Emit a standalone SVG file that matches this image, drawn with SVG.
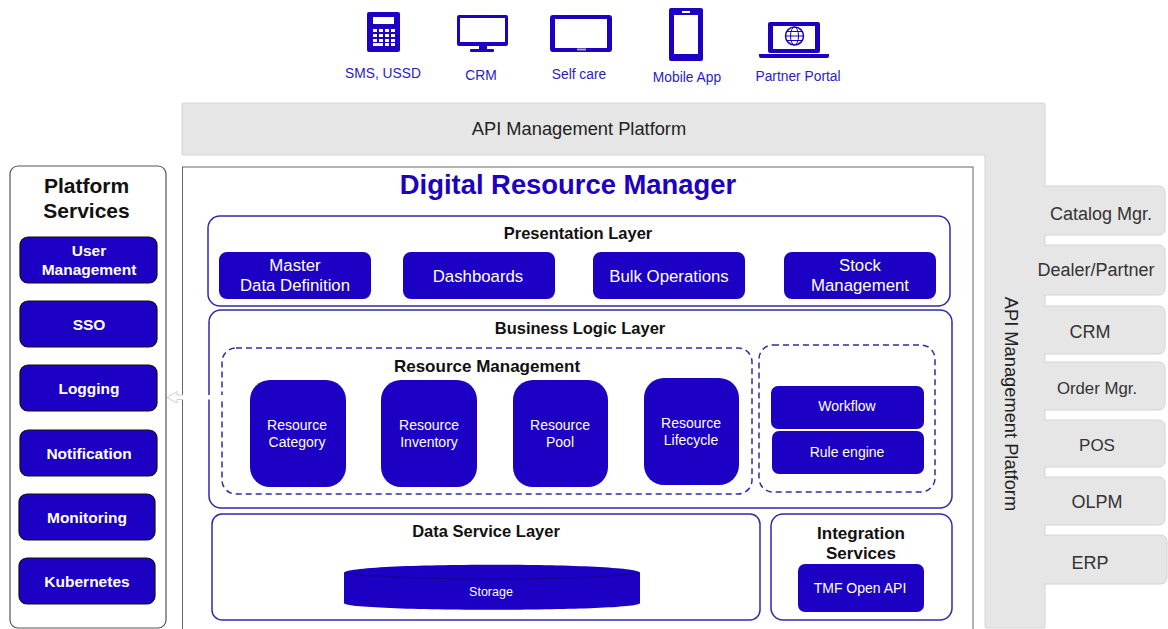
<svg xmlns="http://www.w3.org/2000/svg" width="1168" height="629" viewBox="0 0 1168 629">
<style>
text{font-family:"Liberation Sans",Arial,sans-serif;text-anchor:middle}
.blue{fill:#1c00c4}
.ch{fill:#2a1cc4;font-size:13.800px}
.hole{fill:#fff}
.layer{fill:#fff;stroke:#2f2aa8;stroke-width:1.5}
.dash{fill:none;stroke:#2f2aa8;stroke-width:1.5;stroke-dasharray:6 4}
.box{fill:#1c00c4;stroke:#111;stroke-width:1.2}
.fb{fill:#1c00c4}
.w{fill:#fff}
.wb{fill:#fff;font-weight:bold;font-size:15.500px}
.lt{fill:#111;font-weight:bold;font-size:16.500px}
.gray{fill:#e6e6e6;stroke:#d4d4d4;stroke-width:1}
.gt{fill:#333;font-size:18px}
.api{fill:#222;font-size:18.300px}
</style>
<g id="channels">
<g id="ch-sms"><rect x="367" y="12" width="33" height="40" rx="2" class="blue"/><rect x="373" y="17" width="21" height="7" class="hole"/><g class="hole"><rect x="373" y="29" width="4" height="3"/><rect x="379" y="29" width="4" height="3"/><rect x="385" y="29" width="4" height="3"/><rect x="391" y="29" width="4" height="3"/><rect x="373" y="34" width="4" height="3"/><rect x="379" y="34" width="4" height="3"/><rect x="385" y="34" width="4" height="3"/><rect x="391" y="34" width="4" height="3"/><rect x="373" y="39" width="4" height="3"/><rect x="379" y="39" width="4" height="3"/><rect x="385" y="39" width="4" height="3"/><rect x="391" y="39" width="4" height="3"/><rect x="373" y="43" width="10" height="3"/><rect x="385" y="43" width="4" height="3"/><rect x="391" y="43" width="4" height="3"/></g><text x="383" y="78" class="ch">SMS, USSD</text></g>
<g id="ch-crm"><rect x="457" y="15" width="51" height="31" rx="2" class="blue"/><rect x="460" y="18" width="45" height="24" class="hole"/><rect x="479" y="46" width="8" height="4" class="blue"/><rect x="470" y="49" width="24" height="3" rx="1" class="blue"/><text x="481" y="80" class="ch">CRM</text></g>
<g id="ch-selfcare"><rect x="550" y="15" width="62" height="37" rx="3" class="blue"/><rect x="555" y="19" width="52" height="29" class="hole"/><rect x="577" y="48.500" width="9" height="2" fill="#aaa"/><text x="579" y="79" class="ch">Self care</text></g>
<g id="ch-mobile"><rect x="669" y="8" width="34" height="53" rx="2" class="blue"/><rect x="674" y="15" width="24" height="39" class="hole"/><rect x="682" y="11" width="8" height="2" class="hole"/><text x="687" y="82" class="ch">Mobile App</text></g>
<g id="ch-partner"><rect x="768" y="22" width="52" height="31" rx="2" class="blue"/><rect x="773" y="26" width="42" height="23" class="hole"/><path d="M759 54H829V56Q829 58 827 58H761Q759 58 759 56Z" class="blue"/><circle cx="794.500" cy="36" r="9" fill="none" stroke="#1c00c4" stroke-width="1.500"/><ellipse cx="794.500" cy="36" rx="4" ry="9" fill="none" stroke="#1c00c4"/><path d="M785.500 36H803.500M787 31.500H802M787 40.500H802" stroke="#1c00c4" fill="none"/><text x="798" y="81" class="ch">Partner Portal</text></g>
</g>
<g id="api-platform">
<path class="gray" d="M184 103H1043Q1045 103 1045 105V627Q1045 628 1043 628H987Q985 628 985 627V155H182V105Q182 103 184 103Z"/>
<text x="579" y="135" class="api">API Management Platform</text>
<text transform="translate(1005 404) rotate(90)" class="api">API Management Platform</text>
</g>
<g id="tabs">
<g id="tab-catalog"><path class="gray" d="M1044 186H1158Q1165 186 1165 193V229Q1165 235 1158 235H1044"/><text x="1101" y="220" class="gt">Catalog Mgr.</text></g>
<g id="tab-dealer"><path class="gray" d="M1044 245H1158Q1165 245 1165 252V288Q1165 295 1158 295H1044"/><text x="1096" y="276" class="gt">Dealer/Partner</text></g>
<g id="tab-crm"><path class="gray" d="M1044 306H1158Q1165 306 1165 313V347Q1165 354 1158 354H1044"/><text x="1090" y="338" class="gt">CRM</text></g>
<g id="tab-order"><path class="gray" d="M1044 362H1158Q1165 362 1165 369V403Q1165 410 1158 410H1044"/><text x="1097" y="394" class="gt" style="font-size:16.800px">Order Mgr.</text></g>
<g id="tab-pos"><path class="gray" d="M1044 420H1158Q1165 420 1165 427V460Q1165 467 1158 467H1044"/><text x="1097" y="451" class="gt" style="font-size:17px">POS</text></g>
<g id="tab-olpm"><path class="gray" d="M1044 477H1158Q1165 477 1165 484V518Q1165 525 1158 525H1044"/><text x="1097" y="508" class="gt">OLPM</text></g>
<g id="tab-erp"><path class="gray" d="M1044 535H1160Q1167 535 1167 542V577Q1167 584 1160 584H1044"/><text x="1090" y="569" class="gt">ERP</text></g>
</g>
<g id="platform-services">
<rect x="10" y="166" width="156" height="462" rx="8" fill="#fff" stroke="#555" stroke-width="1.200"/>
<text x="86.500" y="193" style="fill:#111;font-weight:bold;font-size:21px">Platform</text>
<text x="86.500" y="218" style="fill:#111;font-weight:bold;font-size:21px">Services</text>
<g id="svc-user"><rect x="20" y="237" width="137" height="46" rx="8" class="box"/><text x="89" y="256" class="wb">User</text><text x="89" y="275" class="wb">Management</text></g>
<g id="svc-sso"><rect x="20" y="301" width="137" height="46" rx="8" class="box"/><text x="89" y="330" class="wb">SSO</text></g>
<g id="svc-logging"><rect x="20" y="365" width="137" height="46" rx="8" class="box"/><text x="89" y="394" class="wb">Logging</text></g>
<g id="svc-notification"><rect x="20" y="430" width="137" height="46" rx="8" class="box"/><text x="89" y="459" class="wb">Notification</text></g>
<g id="svc-monitoring"><rect x="19" y="494" width="136" height="46" rx="8" class="box"/><text x="87" y="523" class="wb">Monitoring</text></g>
<g id="svc-kubernetes"><rect x="19" y="558" width="136" height="46" rx="8" class="box"/><text x="87" y="587" class="wb">Kubernetes</text></g>
</g>
<g id="drm">
<rect x="182.500" y="167" width="790.500" height="465" fill="#fff" stroke="#666" stroke-width="1"/>
<text x="568" y="194" style="fill:#1c00c4;font-weight:bold;font-size:27.400px">Digital Resource Manager</text>
</g>
<g id="presentation-layer">
<rect x="208" y="216" width="742" height="90" rx="12" class="layer"/>
<text x="578" y="239" class="lt">Presentation Layer</text>
<g id="p-master"><rect x="219" y="252" width="152" height="47" rx="8" class="fb"/><text x="295" y="271" class="w" font-size="16.800">Master</text><text x="295" y="291" class="w" font-size="16.800">Data Definition</text></g>
<g id="p-dash"><rect x="403" y="252" width="152" height="47" rx="8" class="fb"/><text x="478" y="282" class="w" font-size="16.800">Dashboards</text></g>
<g id="p-bulk"><rect x="593" y="252" width="152" height="47" rx="8" class="fb"/><text x="669" y="282" class="w" font-size="16.800">Bulk Operations</text></g>
<g id="p-stock"><rect x="784" y="252" width="152" height="47" rx="8" class="fb"/><text x="860" y="271" class="w" font-size="16.800">Stock</text><text x="860" y="291" class="w" font-size="16.800">Management</text></g>
</g>
<g id="business-layer">
<rect x="209" y="310" width="743" height="198" rx="12" class="layer"/>
<text x="580" y="334" class="lt">Business Logic Layer</text>
<rect x="222" y="348" width="530" height="146" rx="14" class="dash"/>
<text x="487" y="372" style="fill:#111;font-weight:bold;font-size:17px">Resource Management</text>
<rect x="759" y="345" width="176" height="147" rx="14" class="dash"/>
<g id="r-category"><rect x="250" y="380" width="96" height="107" rx="20" class="fb"/><text x="297" y="430" class="w" font-size="14">Resource</text><text x="297" y="447" class="w" font-size="14">Category</text></g>
<g id="r-inventory"><rect x="381" y="380" width="96" height="107" rx="20" class="fb"/><text x="429" y="430" class="w" font-size="14">Resource</text><text x="429" y="447" class="w" font-size="14">Inventory</text></g>
<g id="r-pool"><rect x="513" y="380" width="95" height="107" rx="20" class="fb"/><text x="560" y="430" class="w" font-size="14">Resource</text><text x="560" y="447" class="w" font-size="14">Pool</text></g>
<g id="r-lifecycle"><rect x="644" y="378" width="95" height="107" rx="20" class="fb"/><text x="691" y="428" class="w" font-size="14">Resource</text><text x="691" y="445" class="w" font-size="14">Lifecycle</text></g>
<g id="workflow"><rect x="771" y="386" width="153" height="43" rx="7" class="fb"/><text x="847" y="411" class="w" font-size="14">Workflow</text></g>
<g id="rule-engine"><rect x="772" y="431" width="152" height="43" rx="7" class="fb"/><text x="847" y="457" class="w" font-size="14">Rule engine</text></g>
</g>
<g id="data-layer">
<rect x="212" y="514" width="548" height="106" rx="10" class="layer"/>
<text x="486" y="537" class="lt">Data Service Layer</text>
<g id="storage"><path d="M344 573C344 562 640 562 640 573V603C640 612 344 612 344 603Z" class="fb"/><path d="M344 573C400 581 584 581 640 573" fill="none" stroke="#120080" stroke-width="0.800"/><text x="491" y="596" class="w" font-size="12.500">Storage</text></g>
</g>
<g id="integration-layer">
<rect x="771" y="514" width="181" height="106" rx="12" class="layer"/>
<text x="861" y="539" class="lt" style="font-size:17px">Integration</text><text x="861" y="559" class="lt" style="font-size:17px">Services</text>
<g id="tmf"><rect x="798" y="564" width="126" height="48" rx="7" class="fb"/><text x="860" y="593" class="w" font-size="14">TMF Open API</text></g>
</g>
<g id="connectors">
<path d="M224 395H177V391.500L167 397.500L177 403V399.500H224Z" fill="#fff" stroke="none"/>
<path d="M183 395H177V391.500L167 397.500L177 403V399.500H183" fill="none" stroke="#cfcfcf" stroke-width="1"/>
</g>
</svg>
